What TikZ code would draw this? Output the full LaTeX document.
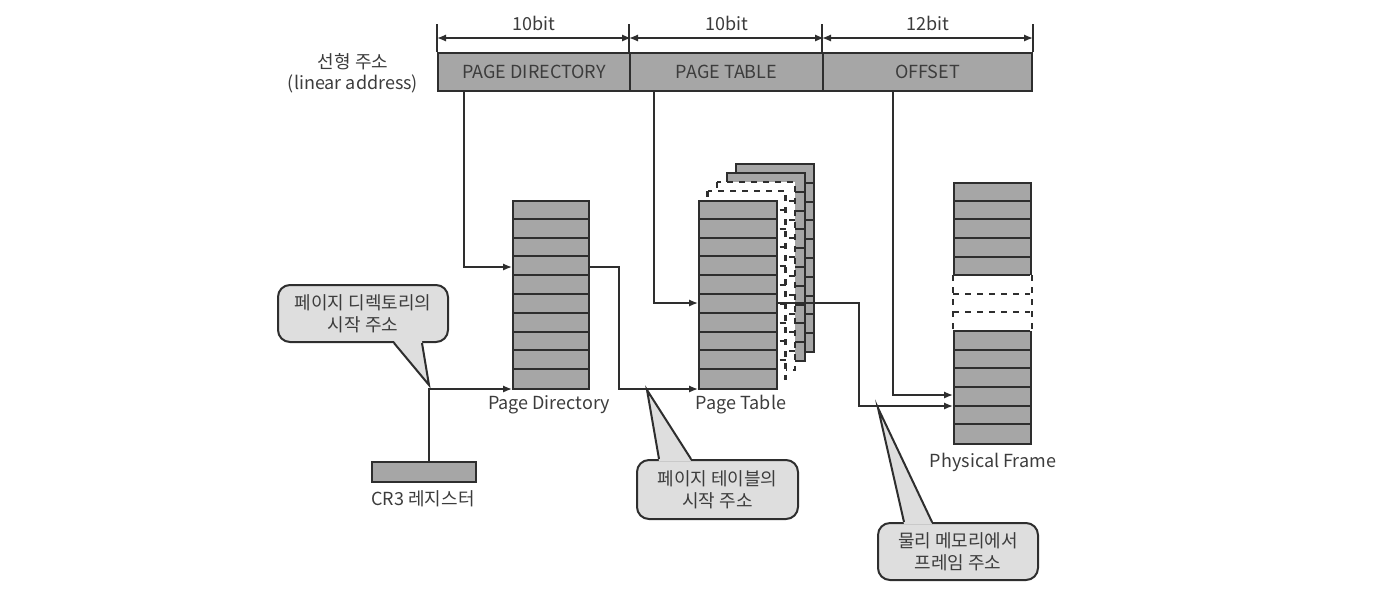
\documentclass[tikz,border=0pt]{standalone}
\usepackage{fontspec}
\setmainfont{Noto Sans CJK KR}
\usetikzlibrary{arrows.meta,positioning,calc}

\definecolor{cellgray}{HTML}{A6A6A6}
\definecolor{tipgray}{HTML}{DEDEDE}
\definecolor{ink}{HTML}{2E2E2E}
\definecolor{txt}{HTML}{3C3C3C}

\tikzset{
  field/.style={draw=ink,line width=1pt,fill=cellgray,minimum height=19pt,inner sep=0pt,font=\fontsize{9}{10}\selectfont,text=txt},
  tbl/.style={draw=ink,line width=1pt,fill=cellgray,inner sep=0pt,anchor=north west},
  row/.style={draw=ink,line width=1pt},
  link/.style={draw=ink,line width=0.75pt,-{Latex[length=4.5pt,width=3.6pt]}},
  dim/.style={draw=ink,line width=0.75pt,{Latex[length=4.5pt,width=3.6pt]}-{Latex[length=4.5pt,width=3.6pt]}},
  lbl/.style={font=\fontsize{9}{10}\selectfont,text=txt,inner sep=0pt},
  bubble/.style={draw=ink,line width=1pt,fill=tipgray,rounded corners=6pt,inner sep=0pt,align=center,font=\fontsize{9}{11}\selectfont,text=txt},
  ptr/.style={draw=ink,line width=1pt,line join=miter},
}

\begin{document}
\begin{tikzpicture}[x=0.5pt,y=-0.5pt]
\useasboundingbox (0,0) rectangle (1390,596);

% linear address
\node[lbl,align=center,font=\fontsize{9}{10.5}\selectfont] (la) at (353,73) {선형 주소\\(linear address)};
\node[field,minimum width=96pt] (fpd) at (534,72) {PAGE DIRECTORY};
\node[field,minimum width=96.5pt] (fpt) at (726.5,72) {PAGE TABLE};
\node[field,minimum width=104.5pt] (fos) at (927.5,72) {OFFSET};
\foreach \f in {fpd.north west,fpt.north west,fos.north west,fos.north east}
  \draw[ink,line width=0.75pt] (\f) -- ++(0,-28);
\draw[dim] ($(fpd.north west)+(0,-14)$) -- ($(fpd.north east)+(0,-14)$);
\draw[dim] ($(fpt.north west)+(0,-14)$) -- ($(fpt.north east)+(0,-14)$);
\draw[dim] ($(fos.north west)+(0,-14)$) -- ($(fos.north east)+(0,-14)$);
\node[lbl] (b1) at (534,23) {10bit};
\node[lbl] (b2) at (726.5,23) {10bit};
\node[lbl] (b3) at (927.5,23) {12bit};

% page directory
\node[tbl,minimum width=38pt,minimum height=94pt] (pd) at (512,200) {};
\foreach \i in {1,...,9}
  \draw[row] ($(pd.north west)+(0,18.8*\i)$) -- ++(76,0);
\node[lbl] (pdl) at (549,405) {Page Directory};

% page table stack
\coordinate (ptnw) at (698,200);
\foreach \k in {4,3} {
  \draw[tbl] ($(ptnw)+(9.5*\k,-9*\k)$) rectangle ++(78,188);
  \foreach \i in {1,...,9}
    \draw[row] ($(ptnw)+(9.5*\k,-9*\k+18.8*\i)$) -- ++(78,0);
}
\foreach \k in {2,1} {
  \draw[ink,line width=1.1pt,dashed,fill=white] ($(ptnw)+(9.5*\k,-9*\k)$) rectangle ++(78,188);
  \foreach \i in {1,...,9}
    \draw[row,dashed] ($(ptnw)+(9.5*\k,-9*\k+18.8*\i)$) -- ++(78,0);
}
\node[tbl,minimum width=39pt,minimum height=94pt] (pt) at (ptnw) {};
\foreach \i in {1,...,9}
  \draw[row] ($(pt.north west)+(0,18.8*\i)$) -- ++(78,0);
\node[lbl] (ptl) at (741,405) {Page Table};

% physical frame
\node[tbl,minimum width=38.5pt,minimum height=130.5pt] (pf) at (953,182) {};
\fill[white] ($(pf.north west)+(-1.5,18.64*5)$) rectangle ($(pf.north east)+(1.5,18.64*8)$);
\draw[ink,line width=1.1pt,dashed] ($(pf.north west)+(0,18.64*5)$) -- ++(0,18.64*3)
  ($(pf.north east)+(0,18.64*5)$) -- ++(0,18.64*3);
\foreach \i in {1,...,5,8,9,...,13}
  \draw[row] ($(pf.north west)+(0,18.64*\i)$) -- ++(77,0);
\foreach \i in {6,7}
  \draw[row,dashed] ($(pf.north west)+(0,18.64*\i)$) -- ++(77,0);
\node[lbl] (pfl) at (993,462) {Physical Frame};

% CR3
\node[field,minimum width=52pt,minimum height=10pt] (cr3) at (424,472) {};
\node[lbl] (cr3l) at (423,499) {CR3 레지스터};

% connectors
\coordinate (cr3top) at ($(cr3.north)+(5,0)$);
\draw[link] (cr3top) |- ($(pd.south west)+(0,-1)$);
\draw[link] ($(fpd.south west)+(27,0)$) |- ($(pd.north west)+(0,67)$);
\draw[link] ($(fpt.south west)+(25,0)$) |- ($(pt.north west)+(0,103)$);
\draw[link] ($(fos.south west)+(71,0)$) |- ($(pf.north west)+(0,213)$);
\draw[link] ($(pd.north east)+(0,67)$) -- ++(29,0) |- ($(pt.south west)+(0,-1)$);
\draw[link] ($(pt.north east)+(0,103)$) -- ++(81,0) |- ($(pf.north west)+(0,224)$);

% callouts
\coordinate (tip1) at (429,385);
\coordinate (tip2) at (647,390);
\coordinate (tip3) at (878,408);
\node[bubble,minimum width=85pt,minimum height=28.5pt] (c1) at (363,313.5) {페이지 디렉토리의\\시작 주소};
\fill[tipgray] ($(c1.south west)+(117,-2)$) -- (tip1) -- ($(c1.south west)+(145,-2)$) -- cycle;
\draw[ptr] ($(c1.south west)+(117,0)$) -- (tip1) -- ($(c1.south west)+(145,0)$);
\node[bubble,minimum width=80.5pt,minimum height=29.5pt] (c2) at (717.5,489.5) {페이지 테이블의\\시작 주소};
\fill[tipgray] ($(c2.north west)+(23,2)$) -- (tip2) -- ($(c2.north west)+(55,2)$) -- cycle;
\draw[ptr] ($(c2.north west)+(23,0)$) -- (tip2) -- ($(c2.north west)+(55,0)$);
\node[bubble,minimum width=80pt,minimum height=28.5pt] (c3) at (958,551.5) {물리 메모리에서\\프레임 주소};
\fill[tipgray] ($(c3.north west)+(27,2)$) -- (tip3) -- ($(c3.north west)+(55,2)$) -- cycle;
\draw[ptr] ($(c3.north west)+(27,0)$) -- (tip3) -- ($(c3.north west)+(55,0)$);
\end{tikzpicture}
\end{document}
